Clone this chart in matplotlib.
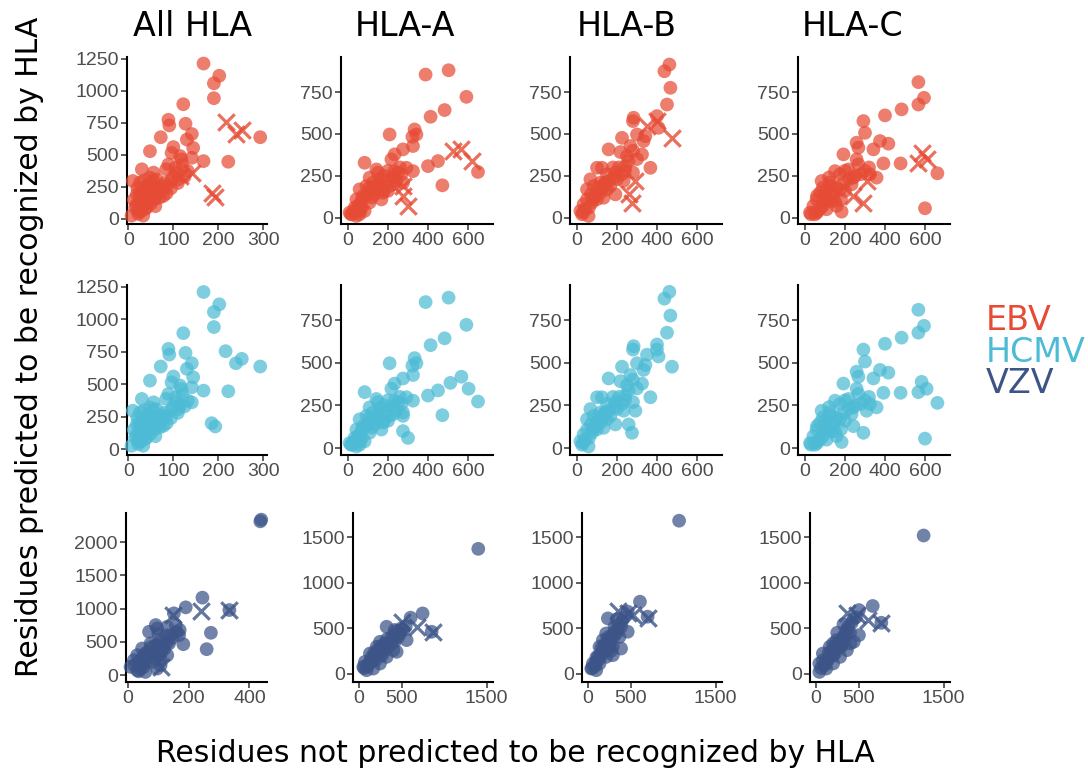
import matplotlib
matplotlib.use("Agg")
import matplotlib.pyplot as plt

# colours (npg-like palette)
ebv_col = "#E64B35"
hcmv_col = "#4DBBD5"
vzv_col = "#3C5488"

columns = ["All HLA", "HLA-A", "HLA-B", "HLA-C"]
viruses = ["EBV", "HCMV", "VZV"]

# ---- EBV: circles + crosses, per column ----
ebv_all_x = [167, 202, 190, 190, 122, 89, 91, 127, 72, 141, 130, 293, 48, 96, 115, 118, 144, 141, 167, 222,
             84, 89, 107, 111, 132, 30, 56, 48, 63, 10, 26, 70, 85, 63, 33, 44, 78, 19, 26, 48, 15, 7, 33, 22,
             30, 41, 59, 70, 20, 38, 52, 35, 28, 40, 60, 100, 120,
             12, 18, 25, 35, 45, 55, 65, 75, 80, 95, 105, 50, 38, 22, 60, 85, 95, 110, 125, 100]
ebv_all_y = [1211, 1116, 1057, 941, 894, 773, 729, 742, 637, 662, 619, 637, 528, 515, 490, 464, 554, 477, 451, 446,
             387, 425, 361, 309, 374, 387, 361, 322, 309, 296, 284, 258, 258, 219, 219, 193, 180, 193, 142, 155, 90, 26, 26, 64,
             116, 90, 155, 168, 240, 250, 205, 170, 60, 130, 250, 330, 420,
             150, 110, 200, 300, 260, 300, 200, 230, 280, 300, 400, 120, 80, 40, 100, 200, 240, 280, 330, 560]
ebv_all_cx = [216, 239, 252, 185, 193, 115, 141]
ebv_all_cy = [755, 662, 696, 200, 175, 335, 361]

ebv_a_x = [388, 503, 592, 413, 483, 208, 333, 342, 322, 325, 275, 233, 217, 83, 400, 450, 472, 650, 142, 150,
           108, 233, 250, 292, 325, 267, 242, 275, 192, 158, 125, 92, 58, 100, 75, 133, 175, 167, 42, 58,
           33, 8, 58, 42, 83, 108, 142, 208, 20, 70, 120, 180,
           30, 50, 70, 90, 120, 150, 180, 200, 220, 260, 160, 110, 15, 60, 200, 230]
ebv_a_y = [855, 881, 722, 603, 643, 497, 527, 497, 483, 428, 408, 378, 348, 328, 308, 338, 193, 273, 288, 269,
           239, 278, 269, 298, 278, 259, 219, 209, 219, 189, 209, 189, 169, 149, 129, 139, 149, 109, 109, 80,
           60, 30, 20, 10, 40, 90, 169, 189, 20, 60, 120, 160,
           40, 70, 110, 130, 160, 200, 250, 280, 240, 300, 230, 180, 20, 40, 160, 200]
ebv_a_cx = [525, 567, 622, 275, 275, 300]
ebv_a_cy = [398, 412, 338, 189, 129, 70]

ebv_b_x = [462, 437, 467, 450, 400, 408, 283, 280, 300, 342, 333, 225, 267, 325, 367, 158, 217, 250, 258, 242,
           100, 125, 67, 150, 192, 183, 225, 233, 117, 83, 50, 192, 150, 117, 92, 50, 33, 17, 58, 42,
           75, 133, 167, 25, 100, 140,
           30, 60, 80, 100, 130, 160, 200, 210, 240, 280, 300, 140, 110, 70, 180, 280]
ebv_b_y = [915, 875, 776, 676, 607, 537, 597, 577, 497, 487, 458, 477, 428, 378, 298, 408, 392, 368, 338, 308,
           298, 298, 229, 259, 269, 239, 259, 219, 209, 189, 169, 139, 169, 149, 129, 109, 80, 40, 10, 50,
           90, 119, 189, 20, 110, 200,
           30, 60, 110, 150, 180, 220, 230, 300, 280, 270, 350, 210, 180, 140, 300, 400]
ebv_b_cx = [350, 400, 475, 292, 258, 275]
ebv_b_cy = [547, 577, 477, 219, 139, 90]

ebv_c_x = [567, 595, 567, 483, 400, 292, 300, 417, 375, 258, 267, 342, 192, 258, 267, 392, 478, 662, 600, 150,
           217, 175, 242, 325, 358, 83, 125, 192, 233, 75, 108, 142, 175, 58, 92, 133, 183, 25, 50, 75,
           108, 158, 42, 100, 130, 60,
           30, 60, 90, 110, 140, 160, 200, 220, 250, 280, 120, 90, 60, 180, 150, 200, 300, 320]
ebv_c_y = [810, 716, 676, 647, 611, 577, 507, 442, 458, 448, 418, 408, 378, 348, 318, 324, 324, 265, 56, 278,
           288, 259, 239, 259, 239, 219, 209, 209, 199, 149, 169, 149, 169, 109, 90, 99, 36, 30, 20, 50,
           50, 70, 70, 130, 190, 30,
           20, 40, 70, 110, 130, 180, 160, 230, 250, 260, 240, 180, 130, 110, 100, 280, 280, 300]
ebv_c_cx = [583, 567, 608, 308, 242, 292]
ebv_c_cy = [388, 328, 348, 219, 129, 90]

# ---- HCMV: same positions as EBV, all drawn as circles ----
hcmv_all_x = ebv_all_x + ebv_all_cx
hcmv_all_y = ebv_all_y + ebv_all_cy
hcmv_a_x = ebv_a_x + [567, 512, 603, 275, 275, 300]
hcmv_a_y = ebv_a_y + [418, 382, 348, 189, 100, 60]
hcmv_b_x = ebv_b_x + ebv_b_cx
hcmv_b_y = ebv_b_y + ebv_b_cy
hcmv_c_x = ebv_c_x + ebv_c_cx
hcmv_c_y = ebv_c_y + ebv_c_cy

# ---- VZV ----
vzv_all_x = [439, 436, 245, 190, 151, 273, 259, 182, 168, 91, 96, 69, 129, 157, 107, 135, 74, 46, 30, 19,
             41, 63, 85, 107, 129, 52, 8, 30, 57, 96, 107, 74, 57, 334, 120, 90, 60, 40, 110, 140,
             20, 35, 45, 55, 65, 75, 85, 95, 100, 115, 130, 145, 160, 125, 50, 35, 80, 90, 170, 100]
vzv_all_y = [2337, 2312, 1166, 1020, 930, 638, 392, 467, 603, 754, 704, 653, 729, 754, 528, 477, 477, 402, 302, 226,
             226, 276, 327, 251, 302, 176, 126, 75, 50, 101, 151, 352, 327, 980, 400, 450, 200, 100, 350, 600,
             150, 200, 250, 300, 350, 420, 380, 450, 300, 420, 500, 560, 650, 600, 120, 60, 200, 260, 680, 620]
vzv_all_cx = [240, 334, 149, 107]
vzv_all_cy = [970, 980, 905, 126]

vzv_a_x = [1402, 748, 607, 325, 560, 443, 247, 403, 482, 208, 129, 70, 51, 90, 168, 247, 325, 403, 364, 286,
           188, 149, 521, 854, 100, 200, 270, 350, 420, 300, 460,
           60, 120, 150, 180, 220, 260, 300, 330, 380, 410, 450, 250, 200, 160, 110, 380, 500, 550, 420]
vzv_a_y = [1375, 663, 616, 516, 369, 240, 350, 369, 442, 295, 221, 129, 74, 37, 55, 111, 184, 258, 332, 240,
           184, 147, 479, 461, 80, 150, 200, 300, 350, 280, 400,
           60, 120, 180, 230, 260, 300, 330, 380, 400, 430, 470, 250, 200, 140, 100, 350, 500, 520, 480]
vzv_a_cx = [501, 678, 873]
vzv_a_cy = [571, 516, 461]

vzv_b_x = [1071, 611, 467, 234, 467, 389, 292, 312, 370, 253, 175, 117, 58, 39, 97, 136, 214, 292, 331, 389,
           136, 175, 214, 701, 80, 160, 250, 300, 350,
           50, 90, 120, 150, 190, 220, 260, 280, 320, 360, 400, 420, 200, 240, 160, 100, 270, 340]
vzv_b_y = [1685, 792, 682, 608, 461, 276, 203, 516, 405, 369, 258, 184, 111, 55, 37, 111, 184, 295, 442, 516,
           295, 369, 442, 627, 80, 200, 300, 400, 480,
           60, 120, 150, 220, 250, 300, 350, 420, 470, 540, 580, 620, 330, 400, 280, 180, 250, 600]
vzv_b_cx = [350, 467, 526, 701]
vzv_b_cy = [689, 671, 645, 608]

vzv_c_x = [1265, 667, 505, 323, 505, 364, 444, 242, 162, 81, 40, 40, 121, 202, 283, 364, 404, 222, 141, 283,
           323, 81, 768, 120, 200, 260, 340, 400,
           60, 100, 140, 170, 190, 220, 260, 300, 330, 360, 380, 420, 440, 470, 250, 200, 150, 300]
vzv_c_y = [1522, 745, 700, 542, 424, 461, 350, 369, 295, 221, 111, 18, 55, 111, 184, 258, 332, 221, 166, 295,
           405, 147, 560, 120, 200, 280, 380, 450,
           60, 90, 150, 200, 250, 300, 340, 370, 420, 480, 520, 560, 600, 620, 450, 330, 230, 300]
vzv_c_cx = [364, 485, 606, 768]
vzv_c_cy = [663, 645, 590, 560]

# tick values
ticks_x_top = [[0, 100, 200, 300], [0, 200, 400, 600], [0, 200, 400, 600], [0, 200, 400, 600]]
ticks_y_top = [[0, 250, 500, 750, 1000, 1250], [0, 250, 500, 750], [0, 250, 500, 750], [0, 250, 500, 750]]
ticks_x_bot = [[0, 200, 400], [0, 500, 1500], [0, 500, 1500], [0, 500, 1500]]
ticks_y_bot = [[0, 500, 1000, 1500, 2000], [0, 500, 1000, 1500], [0, 500, 1000, 1500], [0, 500, 1000, 1500]]

panels = [
    [(ebv_all_x, ebv_all_y, ebv_all_cx, ebv_all_cy), (ebv_a_x, ebv_a_y, ebv_a_cx, ebv_a_cy),
     (ebv_b_x, ebv_b_y, ebv_b_cx, ebv_b_cy), (ebv_c_x, ebv_c_y, ebv_c_cx, ebv_c_cy)],
    [(hcmv_all_x, hcmv_all_y, [], []), (hcmv_a_x, hcmv_a_y, [], []),
     (hcmv_b_x, hcmv_b_y, [], []), (hcmv_c_x, hcmv_c_y, [], [])],
    [(vzv_all_x, vzv_all_y, vzv_all_cx, vzv_all_cy), (vzv_a_x, vzv_a_y, vzv_a_cx, vzv_a_cy),
     (vzv_b_x, vzv_b_y, vzv_b_cx, vzv_b_cy), (vzv_c_x, vzv_c_y, vzv_c_cx, vzv_c_cy)],
]
row_colors = [ebv_col, hcmv_col, vzv_col]

W, H = 1088, 773
fig = plt.figure(figsize=(W / 100, H / 100), dpi=100)

# panel boxes in pixels
lefts = [[127, 341, 570, 798], [127, 341, 570, 798], [126, 353, 582, 810]]
rights = [267, 493, 722, 950]
tops = [57, 285, 513]
bottoms = [224, 455, 682]

xlims = [[(-3, 308), (-35, 725), (-35, 725), (-35, 725)],
         [(-3, 308), (-35, 725), (-35, 725), (-35, 725)],
         [(-7, 458), (-70, 1575), (-70, 1575), (-70, 1575)]]
ylims = [[(-39, 1262), (-38, 960), (-38, 960), (-38, 960)],
         [(-45, 1265), (-40, 955), (-40, 955), (-40, 955)],
         [(-101, 2437), (-93, 1770), (-93, 1770), (-93, 1770)]]

for r in range(3):
    for c in range(4):
        l, rt = lefts[r][c], rights[c]
        t, b = tops[r], bottoms[r]
        ax = fig.add_axes([l / W, 1 - b / H, (rt - l) / W, (b - t) / H])
        px, py, cx, cy = panels[r][c]
        col = row_colors[r]
        ax.scatter(px, py, s=98, color=col, alpha=0.72, edgecolors="none", zorder=3, clip_on=False)
        if cx:
            ax.scatter(cx, cy, s=140, marker="x", color=col, alpha=0.8, linewidths=2.3, zorder=4)
        ax.set_xlim(*xlims[r][c])
        ax.set_ylim(*ylims[r][c])
        if r < 2:
            ax.set_xticks(ticks_x_top[c])
            ax.set_yticks(ticks_y_top[c])
        else:
            ax.set_xticks(ticks_x_bot[c])
            ax.set_yticks(ticks_y_bot[c])
        for s in ["top", "right"]:
            ax.spines[s].set_visible(False)
        for s in ["left", "bottom"]:
            ax.spines[s].set_linewidth(1.5)
            ax.spines[s].set_color("black")
        ax.tick_params(length=4, width=1.1, colors="#333333", labelcolor="#4D4D4D",
                       labelsize=14, pad=2)
        for lab in ax.get_xticklabels() + ax.get_yticklabels():
            lab.set_fontfamily("Liberation Sans")
        ax.set_facecolor("none")

# column titles
title_x = [193, 405, 627, 853]
for name, tx in zip(columns, title_x):
    fig.text(tx / W, 1 - 26 / H, name, ha="center", va="center", fontsize=24,
             family="DejaVu Sans")

# axis labels
fig.text(30 / W, 1 - 347 / H, "Residues predicted to be recognized by HLA", rotation=90,
         ha="center", va="center", fontsize=21.5, family="DejaVu Sans")
fig.text(515 / W, 1 - 753 / H, "Residues not predicted to be recognized by HLA",
         ha="center", va="center", fontsize=21.5, family="DejaVu Sans")

# legend as coloured text
for name, col, ly in zip(viruses, row_colors, [320, 352, 384]):
    fig.text(986 / W, 1 - ly / H, name, color=col, ha="left", va="center", fontsize=24,
             family="DejaVu Sans")

fig.savefig("out.png", dpi=100)
